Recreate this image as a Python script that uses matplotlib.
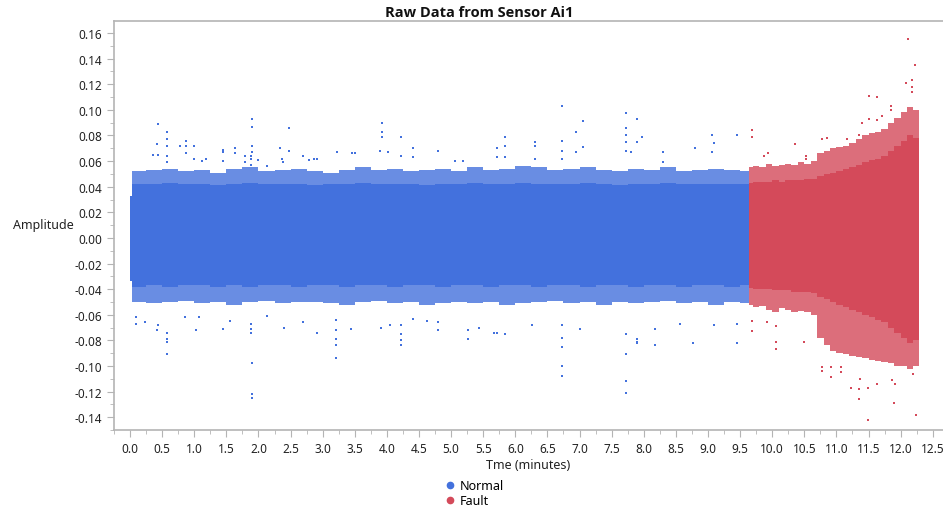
import matplotlib
matplotlib.use("Agg")
import matplotlib.pyplot as plt
from matplotlib.lines import Line2D
from matplotlib.ticker import MultipleLocator, FormatStrFormatter
import numpy as np

plt.rcParams['font.family'] = ['Noto Sans', 'DejaVu Sans']
plt.rcParams['axes.unicode_minus'] = False

BLUE = '#4371DD'
RED = '#D44A5A'

# --- Normal segment: amplitude envelope per time bin (minutes) ---
normal_edges = [0.0, 0.03, 0.25, 0.5, 0.75, 1.0, 1.25, 1.5, 1.75, 2.0, 2.25, 2.5,
                2.75, 3.0, 3.25, 3.5, 3.75, 4.0, 4.25, 4.5, 4.75, 5.0, 5.25, 5.5,
                5.75, 6.0, 6.25, 6.5, 6.75, 7.0, 7.25, 7.5, 7.75, 8.0, 8.25, 8.5,
                8.75, 9.0, 9.25, 9.5, 9.64]
normal_core_hi = [0.033, 0.042, 0.042, 0.043, 0.042, 0.042, 0.041, 0.042, 0.043, 0.042,
                  0.042, 0.042, 0.041, 0.042, 0.042, 0.043, 0.042, 0.042, 0.042, 0.041,
                  0.042, 0.042, 0.043, 0.042, 0.042, 0.043, 0.042, 0.042, 0.042, 0.043,
                  0.042, 0.041, 0.042, 0.042, 0.043, 0.042, 0.042, 0.042, 0.042, 0.042]
normal_fringe_hi = [0.033, 0.052, 0.053, 0.054, 0.052, 0.053, 0.051, 0.054, 0.055, 0.052,
                    0.053, 0.054, 0.052, 0.051, 0.053, 0.055, 0.053, 0.054, 0.052, 0.053,
                    0.054, 0.052, 0.055, 0.053, 0.054, 0.056, 0.055, 0.053, 0.054, 0.055,
                    0.053, 0.052, 0.054, 0.053, 0.055, 0.052, 0.053, 0.054, 0.053, 0.052]
normal_core_lo = [-0.034, -0.038, -0.037, -0.038, -0.037, -0.037, -0.038, -0.037, -0.038, -0.037,
                  -0.037, -0.038, -0.037, -0.037, -0.038, -0.037, -0.037, -0.038, -0.037, -0.037,
                  -0.038, -0.037, -0.037, -0.038, -0.037, -0.037, -0.038, -0.037, -0.037, -0.038,
                  -0.037, -0.037, -0.038, -0.037, -0.037, -0.038, -0.037, -0.037, -0.038, -0.037]
normal_fringe_lo = [-0.034, -0.050, -0.051, -0.050, -0.049, -0.051, -0.050, -0.052, -0.050, -0.049,
                    -0.051, -0.050, -0.050, -0.051, -0.052, -0.050, -0.049, -0.051, -0.050, -0.052,
                    -0.051, -0.050, -0.051, -0.050, -0.052, -0.051, -0.050, -0.049, -0.051, -0.050,
                    -0.052, -0.050, -0.051, -0.050, -0.049, -0.051, -0.050, -0.052, -0.050, -0.051]

# --- Fault segment ---
fault_edges = [9.64, 9.7, 9.8, 9.9, 10.0, 10.1, 10.2, 10.3, 10.4, 10.5, 10.6, 10.7,
               10.8, 10.9, 11.0, 11.1, 11.2, 11.3, 11.4, 11.5, 11.6, 11.7, 11.8,
               11.9, 12.0, 12.1, 12.2, 12.28]
fault_core_hi = [0.043, 0.044, 0.044, 0.044, 0.045, 0.044, 0.045, 0.045, 0.045, 0.046,
                 0.046, 0.048, 0.050, 0.051, 0.052, 0.054, 0.055, 0.057, 0.059, 0.061,
                 0.062, 0.064, 0.068, 0.072, 0.076, 0.080, 0.078]
fault_fringe_hi = [0.055, 0.056, 0.055, 0.058, 0.056, 0.057, 0.058, 0.057, 0.059, 0.058,
                   0.060, 0.066, 0.068, 0.070, 0.071, 0.072, 0.074, 0.077, 0.080, 0.082,
                   0.083, 0.085, 0.090, 0.094, 0.098, 0.102, 0.100]
fault_core_lo = [-0.039, -0.040, -0.040, -0.040, -0.041, -0.041, -0.041, -0.042, -0.042, -0.042,
                 -0.043, -0.046, -0.048, -0.050, -0.052, -0.054, -0.056, -0.058, -0.060, -0.062,
                 -0.064, -0.066, -0.070, -0.074, -0.078, -0.082, -0.080]
fault_fringe_lo = [-0.052, -0.054, -0.053, -0.056, -0.058, -0.055, -0.056, -0.058, -0.057, -0.058,
                   -0.060, -0.078, -0.084, -0.088, -0.090, -0.091, -0.092, -0.093, -0.094, -0.095,
                   -0.096, -0.097, -0.098, -0.100, -0.100, -0.102, -0.100]

# --- Isolated spikes ---
normal_spike_t = [0.43, 0.42, 0.36, 0.43, 0.58, 0.58, 0.58, 0.58, 0.58, 0.87, 0.78, 0.87, 1.0,
                  0.87, 1.0, 1.12, 1.19, 1.45, 1.45, 1.45, 1.64, 1.64, 1.79, 1.79,
                  1.90, 1.90, 1.90, 1.90, 1.88, 1.88, 1.88, 1.99, 2.13, 2.34, 2.36, 2.38,
                  2.48, 2.47, 2.70, 2.79, 2.86, 2.91, 3.22, 3.45, 3.50,
                  3.92, 3.92, 3.92, 3.89, 4.02, 4.22, 4.22, 4.41, 4.41, 4.80, 5.06, 5.19,
                  5.71, 5.71, 5.84, 5.84, 5.84, 6.31, 6.31, 6.31, 6.72, 6.72, 6.72, 6.72,
                  6.95, 7.05, 6.95, 7.05, 7.73, 7.73, 7.73, 7.73, 7.73, 7.80, 7.89, 7.89,
                  7.98, 8.30, 8.30, 8.80, 9.06, 9.09, 9.06, 9.45,
                  # below the band
                  0.10, 0.10, 0.23, 0.42, 0.44, 0.58, 0.58, 0.58, 0.58, 1.03, 0.85, 1.08,
                  1.45, 1.56, 1.88, 1.88, 1.88, 1.90, 1.90, 1.90, 2.13, 2.39, 2.70, 2.91,
                  3.21, 3.21, 3.21, 3.21, 3.21, 3.44, 3.91, 4.05, 4.22, 4.22, 4.22, 4.22,
                  4.41, 4.62, 4.80, 4.80, 5.26, 5.26, 5.43, 5.66, 5.71, 5.84, 6.26,
                  6.72, 6.72, 6.72, 6.72, 6.72, 7.01, 7.73, 7.73, 7.73, 7.73, 7.89,
                  7.89, 7.89, 8.18, 8.18, 8.57, 8.77, 9.09, 9.45, 9.45]
normal_spike_amp = [0.089, 0.073, 0.065, 0.065, 0.083, 0.077, 0.072, 0.064, 0.059, 0.076, 0.072, 0.072, 0.072,
                    0.066, 0.062, 0.060, 0.062, 0.069, 0.067, 0.060, 0.070, 0.066, 0.064, 0.059,
                    0.093, 0.087, 0.072, 0.067, 0.064, 0.062, 0.057, 0.061, 0.056, 0.070, 0.062, 0.059,
                    0.0856, 0.068, 0.064, 0.061, 0.062, 0.062, 0.067, 0.066, 0.066,
                    0.0897, 0.083, 0.079, 0.068, 0.067, 0.079, 0.064, 0.070, 0.063, 0.068, 0.060, 0.060,
                    0.070, 0.063, 0.079, 0.072, 0.063, 0.075, 0.072, 0.062, 0.103, 0.076, 0.068, 0.062,
                    0.083, 0.091, 0.067, 0.071, 0.0976, 0.086, 0.080, 0.075, 0.068, 0.067, 0.093, 0.075,
                    0.079, 0.067, 0.059, 0.070, 0.080, 0.074, 0.067, 0.080,
                    -0.062, -0.067, -0.066, -0.072, -0.068, -0.074, -0.079, -0.081, -0.091, -0.072, -0.062, -0.062,
                    -0.071, -0.065, -0.074, -0.071, -0.067, -0.098, -0.122, -0.125, -0.061, -0.070, -0.066, -0.074,
                    -0.064, -0.072, -0.079, -0.084, -0.094, -0.071, -0.070, -0.068, -0.068, -0.075, -0.080, -0.084,
                    -0.063, -0.065, -0.066, -0.072, -0.072, -0.079, -0.070, -0.074, -0.074, -0.075, -0.068,
                    -0.068, -0.078, -0.085, -0.100, -0.108, -0.071, -0.075, -0.091, -0.112, -0.121, -0.081,
                    -0.079, -0.082, -0.071, -0.084, -0.067, -0.082, -0.068, -0.067, -0.082]

fault_spike_t = [9.68, 9.68, 9.87, 9.94, 10.36, 10.52, 10.52, 10.77, 10.85, 11.17, 11.35,
                 11.40, 11.50, 11.50, 11.63, 11.63, 11.71, 11.85, 11.85, 12.08, 12.17,
                 12.17, 12.17, 12.11, 12.22,
                 9.68, 9.68, 9.92, 10.06, 10.06, 10.06, 10.49, 10.77, 10.77, 10.91, 10.91,
                 11.07, 11.07, 11.22, 11.35, 11.36, 11.49, 11.35, 11.49, 11.63, 11.89,
                 11.92, 11.86, 12.20, 12.24]
fault_spike_amp = [0.084, 0.079, 0.064, 0.066, 0.073, 0.064, 0.062, 0.077, 0.078, 0.077, 0.080,
                   0.090, 0.093, 0.111, 0.110, 0.092, 0.095, 0.103, 0.100, 0.121, 0.123,
                   0.118, 0.114, 0.155, 0.135,
                   -0.065, -0.073, -0.066, -0.069, -0.081, -0.087, -0.081, -0.101, -0.104, -0.101, -0.109,
                   -0.101, -0.105, -0.117, -0.118, -0.110, -0.117, -0.126, -0.142, -0.114, -0.129,
                   -0.114, -0.111, -0.106, -0.138]


def draw_segment(ax, edges, core_hi, core_lo, fringe_hi, fringe_lo, color):
    x = np.asarray(edges)
    step = lambda v: np.append(v, v[-1])
    # sparser outer fringe, then the dense core on top
    ax.fill_between(x, step(core_hi), step(fringe_hi), step='post',
                    color=color, alpha=0.8, lw=0)
    ax.fill_between(x, step(fringe_lo), step(core_lo), step='post',
                    color=color, alpha=0.8, lw=0)
    ax.fill_between(x, step(core_lo), step(core_hi), step='post',
                    color=color, lw=0)


fig = plt.figure(figsize=(9.43, 5.10), dpi=100)
ax = fig.add_axes([114 / 943, 1 - 431 / 510, 1 - 114 / 943, (431 - 22) / 510])

draw_segment(ax, normal_edges, normal_core_hi, normal_core_lo,
             normal_fringe_hi, normal_fringe_lo, BLUE)
draw_segment(ax, fault_edges, fault_core_hi, fault_core_lo,
             fault_fringe_hi, fault_fringe_lo, RED)
ax.scatter(normal_spike_t, normal_spike_amp, s=4, marker='s', color=BLUE, lw=0)
ax.scatter(fault_spike_t, fault_spike_amp, s=4, marker='s', color=RED, lw=0)

ax.set_xlim(-0.25, 12.66)
ax.set_ylim(-0.15, 0.1694)

ax.xaxis.set_major_locator(MultipleLocator(0.5))
ax.xaxis.set_minor_locator(MultipleLocator(0.25))
ax.xaxis.set_major_formatter(FormatStrFormatter('%.1f'))
ax.yaxis.set_major_locator(MultipleLocator(0.02))
ax.yaxis.set_minor_locator(MultipleLocator(0.01))
ax.yaxis.set_major_formatter(FormatStrFormatter('%.2f'))

spine_col = '#B4B4B4'
for side in ['left', 'bottom', 'top']:
    ax.spines[side].set_color(spine_col)
    ax.spines[side].set_linewidth(1.2)
ax.spines['right'].set_visible(False)
ax.tick_params(which='both', colors=spine_col, labelcolor='#222222', labelsize=8.5)
ax.tick_params(which='major', length=5)
ax.tick_params(which='minor', length=3)

ax.set_xlabel('Tme (minutes)', fontsize=9, color='#222222', labelpad=2)
ax.set_ylabel('Amplitude', fontsize=9, color='#222222', rotation=0, va='center', ha='left')
ax.yaxis.set_label_coords(-12 / 829, 0.50, transform=None)
ax.yaxis.label.set_position((0, 0))
ax.yaxis.label.set_transform(fig.transFigure)
ax.yaxis.label.set_x(13 / 943)
ax.yaxis.label.set_y(1 - 226 / 510)

fig.text(479 / 943, 1 - 13 / 510, 'Raw Data from Sensor Ai1', ha='center', va='center',
         fontsize=10.5, fontweight='bold', family=['Open Sans', 'DejaVu Sans'], color='#111111')

handles = [Line2D([], [], marker='o', ls='', color=BLUE, ms=4.5, label='Normal'),
           Line2D([], [], marker='o', ls='', color=RED, ms=4.5, label='Fault')]
fig.legend(handles=handles, loc='center', bbox_to_anchor=(474 / 943, 1 - 494 / 510),
           frameon=False, fontsize=9, handletextpad=0.3, labelspacing=0.15,
           handlelength=1.0, borderpad=0)

fig.savefig('out.png', dpi=100)
